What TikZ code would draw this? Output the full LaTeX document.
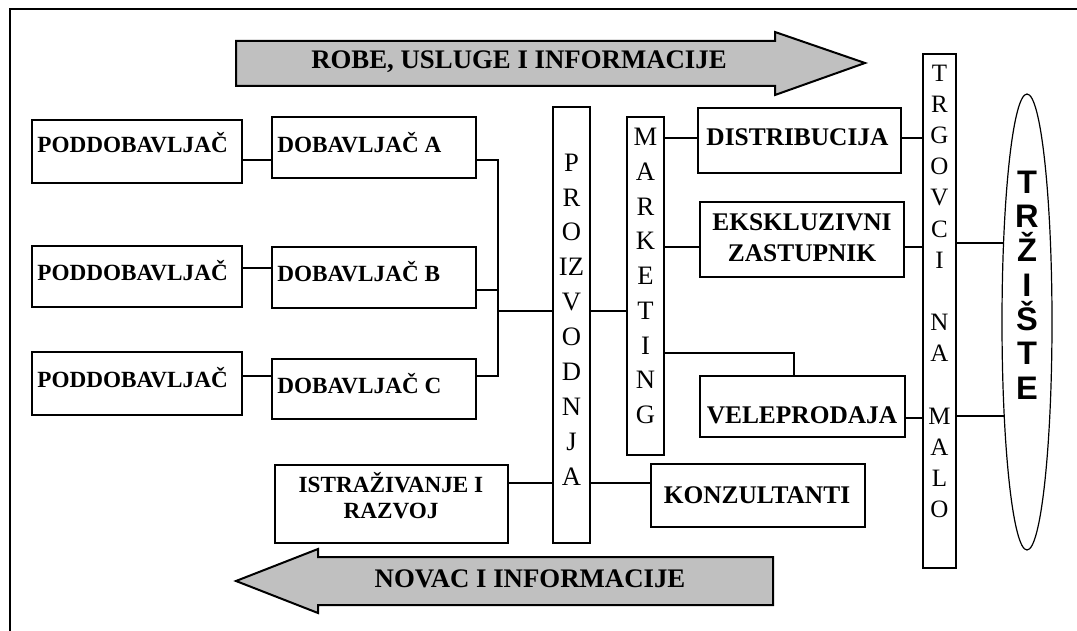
\documentclass[tikz,border=0pt]{standalone}
\usepackage{fontspec}
\setmainfont{Liberation Serif}
\newfontfamily\trzfont{Liberation Sans}
\usetikzlibrary{shapes.geometric}
\definecolor{arrowgray}{RGB}{192,192,192}
\begin{document}
\begin{tikzpicture}[x=0.5pt,y=-0.5pt,
  box/.style={draw, line width=1pt, rectangle, inner sep=0pt},
  conn/.style={line width=0.9pt},
  lt/.style={font=\bfseries\fontsize{11.6}{14}\selectfont, inner sep=0pt, anchor=base west},
  rt/.style={font=\bfseries\fontsize{12.7}{15.5}\selectfont, inner sep=0pt, align=center},
  vt/.style={font=\fontsize{13.3}{17.45}\selectfont, inner sep=0pt, align=center},
  flow/.style={draw, line width=1pt, fill=arrowgray},
  flowtext/.style={font=\bfseries\fontsize{13.4}{16}\selectfont, inner sep=0pt, anchor=base}
]
\useasboundingbox (0,0) rectangle (1077,631);
% outer frame (cropped)
\draw[line width=1pt] (10,660) -- (10,9) -- (1100,9);

% flow arrows
\draw[flow] (236,41) -- (775,41) -- (775,32) -- (865,63) -- (775,95) -- (775,86) -- (236,86) -- cycle;
\node[flowtext] (robe) at (519,69) {ROBE, USLUGE I INFORMACIJE};
\draw[flow] (236,581) -- (318,549) -- (318,557) -- (773,557) -- (773,605) -- (318,605) -- (318,613) -- cycle;
\node[flowtext] (novac) at (530,587) {NOVAC I INFORMACIJE};

% left boxes
\node[box, minimum width=105pt, minimum height=31.5pt] (pod1) at (137,151.5) {};
\node[box, minimum width=102pt, minimum height=30.5pt] (dobA) at (374,147.5) {};
\node[box, minimum width=105pt, minimum height=30.5pt] (pod2) at (137,276.5) {};
\node[box, minimum width=102pt, minimum height=30.5pt] (dobB) at (374,277.5) {};
\node[box, minimum width=105pt, minimum height=31.5pt] (pod3) at (137,383.5) {};
\node[box, minimum width=102pt, minimum height=30pt] (dobC) at (374,389) {};
\node[lt] (tpod1) at (37,153) {PODDOBAVLJAČ};
\node[lt] (tdobA) at (277,153) {DOBAVLJAČ A};
\node[lt] (tpod2) at (37,280) {PODDOBAVLJAČ};
\node[lt] (tdobB) at (277,281) {DOBAVLJAČ B};
\node[lt] (tpod3) at (37,387) {PODDOBAVLJAČ};
\node[lt] (tdobC) at (277,393) {DOBAVLJAČ C};

\node[box, minimum width=116.5pt, minimum height=39pt] (ir) at (391.5,504) {};
\node[font=\bfseries\fontsize{11.6}{13}\selectfont, inner sep=0pt, align=center] (tir) at (391,496) {ISTRAŽIVANJE I\\RAZVOJ};

% vertical columns
\node[box, minimum width=18.5pt, minimum height=218pt] (proiz) at (571.5,325) {};
\node[vt] (tproiz) at (571.5,319.5) {P\\R\\O\\IZ\\V\\O\\D\\N\\J\\A};
\node[box, minimum width=18.5pt, minimum height=169pt] (mark) at (645.5,286) {};
\node[vt, font=\fontsize{13.3}{17.37}\selectfont] (tmark) at (645.5,276) {M\\A\\R\\K\\E\\T\\I\\N\\G};

% right boxes
\node[box, minimum width=101.5pt, minimum height=32.5pt] (dist) at (799.5,140.5) {};
\node[rt, anchor=base] (tdist) at (797.5,146) {DISTRIBUCIJA};
\node[box, minimum width=102pt, minimum height=37.5pt] (eks) at (802,239.5) {};
\node[rt] (teks) at (802,238) {EKSKLUZIVNI\\ZASTUPNIK};
\node[box, minimum width=102.5pt, minimum height=30.5pt] (vele) at (802.5,406.5) {};
\node[rt, anchor=base] (tvele) at (802,423) {VELEPRODAJA};
\node[box, minimum width=107pt, minimum height=31.5pt] (konz) at (758,495.5) {};
\node[rt, anchor=base] (tkonz) at (757,503) {KONZULTANTI};

\node[box, minimum width=16.5pt, minimum height=257pt] (trg) at (939.5,311) {};
\node[vt, font=\fontsize{12.5}{15.6}\selectfont] (ttrg) at (939.5,291.5) {T\\R\\G\\O\\V\\C\\I\\\mbox{}\\N\\A\\\mbox{}\\M\\A\\L\\O};

\node[draw, ellipse, line width=0.6pt, inner sep=0pt, minimum width=25pt, minimum height=228pt] (ell) at (1027,322) {};
\node[font=\trzfont\bfseries\fontsize{16.3}{17.15}\selectfont, inner sep=0pt, align=center] (tell) at (1027,285) {T\\R\\Ž\\I\\Š\\T\\E};

% connectors
\coordinate (jA) at (498,160);
\coordinate (jB) at (498,290);
\coordinate (jM) at (498,311);
\coordinate (jC) at (498,376);
\draw[conn] (pod1.east |- 0,160) -- (dobA.west |- 0,160);
\draw[conn] (pod2.east |- 0,268) -- (dobB.west |- 0,268);
\draw[conn] (pod3.east |- 0,376) -- (dobC.west |- 0,376);
\draw[conn] (dobA.east |- jA) -- (jA) -- (jC) -- (dobC.east |- jC);
\draw[conn] (dobB.east |- jB) -- (jB);
\draw[conn] (jM) -- (proiz.west |- jM);
\draw[conn] (proiz.east |- jM) -- (mark.west |- jM);
\draw[conn] (ir.east |- 0,483) -- (proiz.west |- 0,483);
\draw[conn] (proiz.east |- 0,483) -- (konz.west |- 0,483);
\draw[conn] (mark.east |- 0,138) -- (dist.west |- 0,138);
\draw[conn] (dist.east |- 0,138) -- (trg.west |- 0,138);
\draw[conn] (mark.east |- 0,247) -- (eks.west |- 0,247);
\draw[conn] (eks.east |- 0,247) -- (trg.west |- 0,247);
\draw[conn] (mark.east |- 0,353) -| (vele.north -| 794,0);
\draw[conn] (vele.east |- 0,418) -- (trg.west |- 0,418);
\coordinate (e1) at (ell.107.5);
\coordinate (e2) at (ell.256.7);
\draw[conn] (trg.east |- e1) -- (e1);
\draw[conn] (trg.east |- e2) -- (e2);
\end{tikzpicture}
\end{document}
